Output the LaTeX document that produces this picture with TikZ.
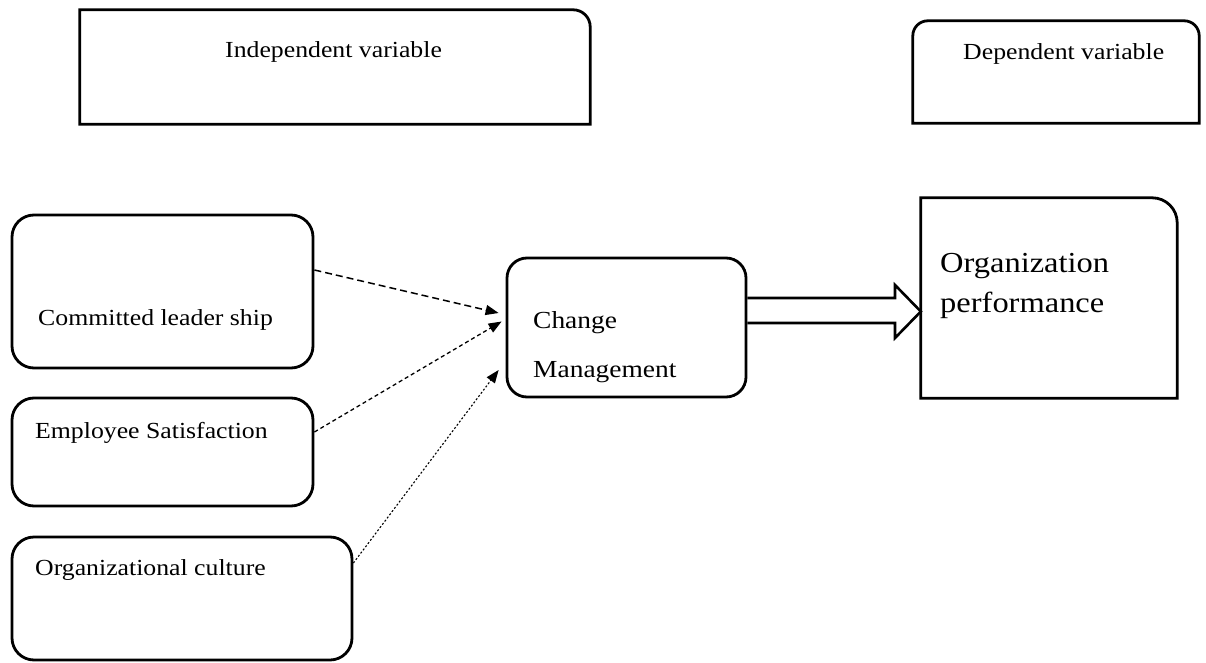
\documentclass[tikz,border=0pt]{standalone}
\usepackage{fontspec}
\setmainfont{Liberation Serif}
\newfontfamily\lblfont[FakeStretch=1.12]{Liberation Serif}
\usetikzlibrary{arrows.meta,calc}
\begin{document}
\begin{tikzpicture}[x=1pt,y=-1pt,
  box/.style={draw=black, line width=2.8pt},
  rbox/.style={box, rounded corners=22pt, inner sep=0pt},
  frame/.style={inner sep=0pt},
  lbl/.style={anchor=base west, inner sep=0pt, font=\lblfont\fontsize{23}{27}\selectfont, text=black},
  link/.style={line width=1.5pt, -{Triangle[length=13pt,width=10pt]}},
  hollow/.style={draw=black, line width=2.6pt, line join=miter},
]
\useasboundingbox[fill=white] (0,0) rectangle (1206,663);

% box frames
\node[frame, minimum width=510pt, minimum height=114pt] (iv) at (335,67) {};
\node[frame, minimum width=286pt, minimum height=102pt] (dv) at (1056,72) {};
\node[rbox, minimum width=301pt, minimum height=153pt] (cl) at (162.5,291.5) {};
\node[rbox, minimum width=301pt, minimum height=108pt] (es) at (162.5,452) {};
\node[rbox, minimum width=340pt, minimum height=123pt] (oc) at (182,598.5) {};
\node[rbox, rounded corners=20pt, minimum width=239pt, minimum height=139pt] (cm) at (626.5,327.5) {};
\node[frame, minimum width=256pt, minimum height=200pt] (op) at (1049,298) {};

% partially rounded outlines
\draw[box] (iv.south west) -- (iv.north west) -- ([xshift=-17pt]iv.north east)
  arc[start angle=90,end angle=0,radius=17pt] -- (iv.south east) -- cycle;
\draw[box] (dv.south west) -- ([yshift=-15pt]dv.north west)
  arc[start angle=180,end angle=90,radius=15pt] -- ([xshift=-15pt]dv.north east)
  arc[start angle=90,end angle=0,radius=15pt] -- (dv.south east) -- cycle;
\draw[box] (op.south west) -- (op.north west) -- ([xshift=-25pt]op.north east)
  arc[start angle=90,end angle=0,radius=25pt] -- (op.south east) -- cycle;

% labels
\node[lbl] (t1) at (225,58) {Independent variable};
\node[lbl] (t2) at (963,60) {Dependent variable};
\node[lbl] (t3) at (38,325) {Committed leader ship};
\node[lbl] (t4) at (35,438) {Employee Satisfaction};
\node[lbl] (t5) at (35,575) {Organizational culture};
\node[lbl, font=\lblfont\fontsize{24.5}{28}\selectfont] (t6) at (533,328) {Change};
\node[lbl, font=\lblfont\fontsize{24.5}{28}\selectfont] (t7) at (533,377) {Management};
\node[lbl, font=\lblfont\fontsize{29}{33}\selectfont] (t8) at (940,272) {Organization};
\node[lbl, font=\lblfont\fontsize{29}{33}\selectfont] (t9) at (940,312) {performance};

% connectors
\draw[link, dash pattern=on 7pt off 4pt] ([yshift=21.5pt]cl.east) -- ([xshift=-7pt,yshift=14.5pt]cm.west);
\draw[link, line width=1.3pt, dash pattern=on 4pt off 3pt] ([yshift=20pt]es.east) -- ([xshift=-4pt,yshift=6pt]cm.west);
\draw[link, line width=1.1pt, dash pattern=on 2pt off 2pt] ([yshift=35.5pt]oc.east) -- ([xshift=-7pt,yshift=-42.5pt]cm.west);

% hollow double arrow
\draw[hollow] ([yshift=29.5pt]cm.east) -- (895,298) -- (895,285) -- ([yshift=-13.5pt]op.west)
  -- (895,338) -- (895,323) -- ([yshift=4.5pt]cm.east);
\end{tikzpicture}
\end{document}
